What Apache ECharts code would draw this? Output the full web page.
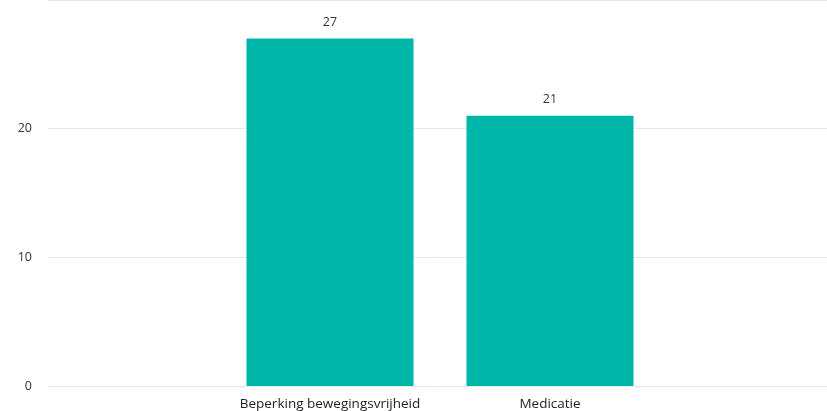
<!DOCTYPE html>
<html><head><meta charset="utf-8">
<script src="https://cdn.jsdelivr.net/npm/echarts@6/dist/echarts.min.js"></script>
<style>html,body{margin:0;padding:0;background:#fff}#c{width:827px;height:411px}</style>
</head><body><div id="c"></div>
<script>
const categories = ['Beperking bewegingsvrijheid', 'Medicatie'];
const values = [27, 21];
const yTicks = [0, 10, 20, 30];

const chart = echarts.init(document.getElementById('c'));
const font = "'Open Sans', sans-serif";
chart.setOption({
  animation: false,
  grid: [
    { left: 48, right: 0, top: -1, bottom: 25 },
    { left: 220, right: 167, top: -1, bottom: 25 }
  ],
  xAxis: [
    { type: 'category', gridIndex: 0, data: [''], show: false },
    { type: 'category', gridIndex: 1, data: categories,
      axisLine: { show: false }, axisTick: { show: false },
      axisLabel: { color: '#222', fontSize: 13.5, fontFamily: font, margin: 11, interval: 0 } }
  ],
  yAxis: [
    { type: 'value', gridIndex: 0, min: yTicks[0], max: yTicks[yTicks.length - 1], interval: 10,
      axisLine: { show: false }, axisTick: { show: false },
      axisLabel: { color: '#333', fontSize: 12.5, fontFamily: font, margin: 16, showMaxLabel: false },
      splitLine: { lineStyle: { color: '#e8e8e8', width: 1 } } },
    { type: 'value', gridIndex: 1, min: yTicks[0], max: yTicks[yTicks.length - 1], interval: 10, show: false }
  ],
  series: [{
    type: 'bar', xAxisIndex: 1, yAxisIndex: 1, data: values, barWidth: 167,
    itemStyle: { color: '#00b6a8' },
    label: { show: true, position: 'top', distance: 10, color: '#333', fontSize: 12.5, fontFamily: font }
  }]
});
</script></body></html>
